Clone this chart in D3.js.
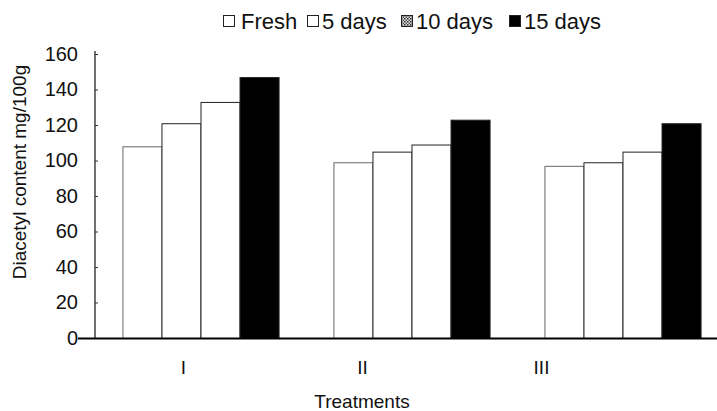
<!DOCTYPE html>
<html>
<head>
<meta charset="utf-8">
<script src="https://cdn.jsdelivr.net/npm/d3@7"></script>
<style>
  body { margin: 0; background: #fff; }
  svg { display: block; font-family: "Liberation Sans", Arial, sans-serif; }
</style>
</head>
<body>
<div id="chart"></div>
<script>
// data
const treatments = ["I", "II", "III"];
const storage = ["Fresh", "5 days", "10 days", "15 days"];
const fresh = [108, 99, 97];
const days5 = [121, 105, 99];
const days10 = [133, 109, 105];
const days15 = [147, 123, 121];
const yTicks = [0, 20, 40, 60, 80, 100, 120, 140, 160];

const seriesValues = [fresh, days5, days10, days15];
const fills = ["#fff", "#fff", "#fff", "#000"];

const width = 717, height = 411;
const x0Left = 95, plotTop = 54, plotBottom = 338;

const svg = d3.select("#chart").append("svg")
    .attr("width", width)
    .attr("height", height);

// hatch pattern for the 10 days legend box
const defs = svg.append("defs");
const pat = defs.append("pattern")
    .attr("id", "hatch")
    .attr("width", 3).attr("height", 3)
    .attr("patternUnits", "userSpaceOnUse");
pat.append("rect").attr("width", 3).attr("height", 3).attr("fill", "#ddd");
pat.append("rect").attr("width", 1.5).attr("height", 1.5).attr("fill", "#333");
pat.append("rect").attr("x", 1.5).attr("y", 1.5).attr("width", 1.5).attr("height", 1.5).attr("fill", "#555");

const y = d3.scaleLinear().domain([0, 160]).range([plotBottom, plotTop]);

// groups (plot runs past the right edge like the scanned figure)
const x0 = d3.scaleBand()
    .domain(treatments)
    .range([x0Left, 728])
    .paddingInner(0.26)
    .paddingOuter(0.13);
const x1 = d3.scaleBand()
    .domain(storage)
    .range([0, x0.bandwidth()]);

// label positions on the x axis (offset in the original)
const xLab = d3.scalePoint().domain(treatments).range([183, 541]);

// bars
const g = svg.append("g");
treatments.forEach((t, i) => {
    const grp = g.append("g").attr("transform", `translate(${x0(t)},0)`);
    storage.forEach((s, j) => {
        const v = seriesValues[j][i];
        grp.append("rect")
            .attr("x", x1(s) + 0.5)
            .attr("y", y(v) + 0.5)
            .attr("width", x1.bandwidth())
            .attr("height", y(0) - y(v))
            .attr("fill", fills[j])
            .attr("stroke", j === 0 ? "#666" : "#222")
            .attr("stroke-width", 1);
    });
});

// y axis
const yAxis = d3.axisLeft(y)
    .tickValues(yTicks)
    .tickSizeInner(-3)
    .tickSizeOuter(0)
    .tickPadding(17);
const ya = svg.append("g")
    .attr("transform", `translate(${x0Left},0)`)
    .call(yAxis);
ya.select(".domain").attr("stroke", "#111").attr("stroke-width", 1.2)
    .attr("d", `M0,${plotTop - 3}V${plotBottom}`);
ya.selectAll(".tick line").attr("stroke", "#333");
ya.selectAll("text")
    .attr("font-size", 20)
    .attr("fill", "#111")
    .attr("font-family", "Liberation Sans, Arial, sans-serif");

// x axis baseline
svg.append("line")
    .attr("x1", 78).attr("x2", width)
    .attr("y1", plotBottom + 0.5).attr("y2", plotBottom + 0.5)
    .attr("stroke", "#000").attr("stroke-width", 2);

// x labels
const xAxis = d3.axisBottom(xLab).tickSize(0).tickPadding(23);
const xa = svg.append("g")
    .attr("transform", `translate(0,${plotBottom})`)
    .call(xAxis);
xa.select(".domain").remove();
xa.selectAll("text")
    .attr("font-size", 19)
    .attr("fill", "#111")
    .attr("font-family", "Liberation Sans, Arial, sans-serif");

// axis titles
svg.append("text")
    .attr("x", 362).attr("y", 408)
    .attr("text-anchor", "middle")
    .attr("font-size", 19)
    .attr("fill", "#111")
    .text("Treatments");

svg.append("text")
    .attr("transform", "translate(26,172) rotate(-90)")
    .attr("text-anchor", "middle")
    .attr("font-size", 19)
    .attr("fill", "#111")
    .text("Diacetyl content mg/100g");

// legend
const legendX = [223, 307, 401, 509];
const lg = svg.append("g");
storage.forEach((s, j) => {
    const item = lg.append("g").attr("transform", `translate(${legendX[j]},15)`);
    item.append("rect")
        .attr("x", 0.5).attr("y", 0.5)
        .attr("width", 11).attr("height", 11)
        .attr("fill", j === 2 ? "url(#hatch)" : fills[j])
        .attr("stroke", "#222");
    item.append("text")
        .attr("x", j === 0 ? 18 : 15).attr("y", 14)
        .attr("font-size", 22)
        .attr("fill", "#111")
        .text(s);
});
</script>
</body>
</html>
